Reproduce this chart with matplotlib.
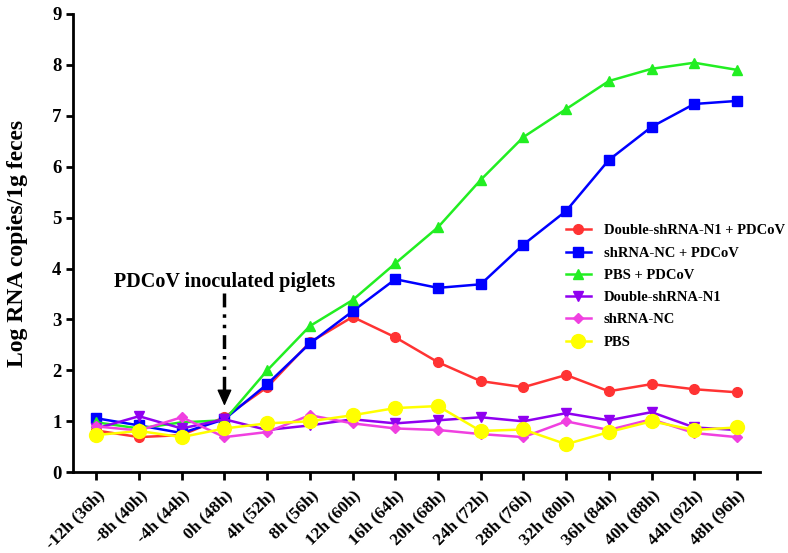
import matplotlib
matplotlib.use("Agg")
import matplotlib.pyplot as plt
import numpy as np

# Zeitpunkte nach der Inokulation (Alter in Klammern)
zeiten = ["-12h (36h)", "-8h (40h)", "-4h (44h)", "0h (48h)", "4h (52h)", "8h (56h)",
          "12h (60h)", "16h (64h)", "20h (68h)", "24h (72h)", "28h (76h)", "32h (80h)",
          "36h (84h)", "40h (88h)", "44h (92h)", "48h (96h)"]

n1_pdcov = [0.82, 0.69, 0.73, 1.08, 1.67, 2.55, 3.05, 2.65, 2.16, 1.79, 1.67, 1.91,
            1.59, 1.73, 1.63, 1.57]
nc_pdcov = [1.06, 0.92, 0.77, 1.04, 1.73, 2.53, 3.16, 3.79, 3.62, 3.69, 4.47, 5.13,
            6.13, 6.78, 7.23, 7.29]
pbs_pdcov = [0.98, 0.86, 0.98, 1.02, 2.0, 2.87, 3.38, 4.1, 4.81, 5.74, 6.58, 7.13,
             7.68, 7.92, 8.04, 7.9]
n1 = [0.86, 1.1, 0.86, 1.04, 0.83, 0.92, 1.04, 0.96, 1.02, 1.08, 1.0, 1.16,
      1.02, 1.18, 0.88, 0.83]
nc = [0.9, 0.82, 1.08, 0.69, 0.79, 1.12, 0.96, 0.86, 0.83, 0.75, 0.69, 1.0,
      0.83, 1.04, 0.77, 0.69]
pbs = [0.73, 0.81, 0.69, 0.86, 0.96, 1.0, 1.12, 1.26, 1.3, 0.81, 0.84, 0.55,
       0.79, 1.0, 0.83, 0.88]

plt.rcParams['font.family'] = ['Liberation Serif', 'DejaVu Serif']
plt.rcParams['font.weight'] = 'bold'

fig = plt.figure(figsize=(7.88, 5.53), dpi=100)
ax = fig.add_axes([0.093, 0.146, 0.872, 0.829])

x = np.arange(len(zeiten))
sarjat = [
    (n1_pdcov, "Double-shRNA-N1 + PDCoV", "#ff3333", "o", 7),
    (nc_pdcov, "shRNA-NC + PDCoV", "#0000ff", "s", 7),
    (pbs_pdcov, "PBS + PDCoV", "#22ee22", "^", 7.5),
    (n1, "Double-shRNA-N1", "#9000f0", "v", 7.5),
    (nc, "shRNA-NC", "#f040e0", "D", 5),
    (pbs, "PBS", "#ffff00", "o", 10),
]
for y, nimi, vari, merkki, koko in sarjat:
    ax.plot(x, y, color=vari, marker=merkki, ms=koko, lw=1.8, label=nimi)

ax.set_xlim(-0.54, 15.55)
ax.set_ylim(0, 9)
ax.set_yticks(range(0, 10))
ax.set_xticks(x)
ax.set_xticklabels(zeiten, rotation=45, ha='right', rotation_mode='anchor',
                   fontsize=12.5, fontweight='bold')
ax.tick_params(axis='y', labelsize=13.5, width=2, length=5)
ax.tick_params(axis='x', width=2, length=6, pad=5)
for s in ['top', 'right']:
    ax.spines[s].set_visible(False)
for s in ['left', 'bottom']:
    ax.spines[s].set_linewidth(2)
ax.set_ylabel("Log RNA copies/1g feces", fontsize=17, fontweight='bold')
ax.yaxis.set_label_coords(-0.066, 0.5)

# inokulaation nuoli
ix = zeiten.index("0h (48h)")
ax.text(ix, 3.73, "PDCoV inoculated piglets", ha='center', va='center',
        fontsize=14.5, fontweight='bold')
ax.plot([ix, ix], [3.52, 1.5], color='k', lw=2.5, dashes=(4, 2, 1, 2, 1, 2))
ax.annotate("", xy=(ix, 1.25), xytext=(ix, 1.56),
            arrowprops=dict(arrowstyle='-|>,head_length=1.0,head_width=0.45',
                            color='k', lw=1))

ax.legend(loc='center left', bbox_to_anchor=(0.718, 0.482), bbox_transform=fig.transFigure,
          frameon=False, fontsize=10.5, handlelength=1.7, handletextpad=0.9,
          labelspacing=0.62, borderpad=0, borderaxespad=0)

fig.savefig("out.png", dpi=100)
